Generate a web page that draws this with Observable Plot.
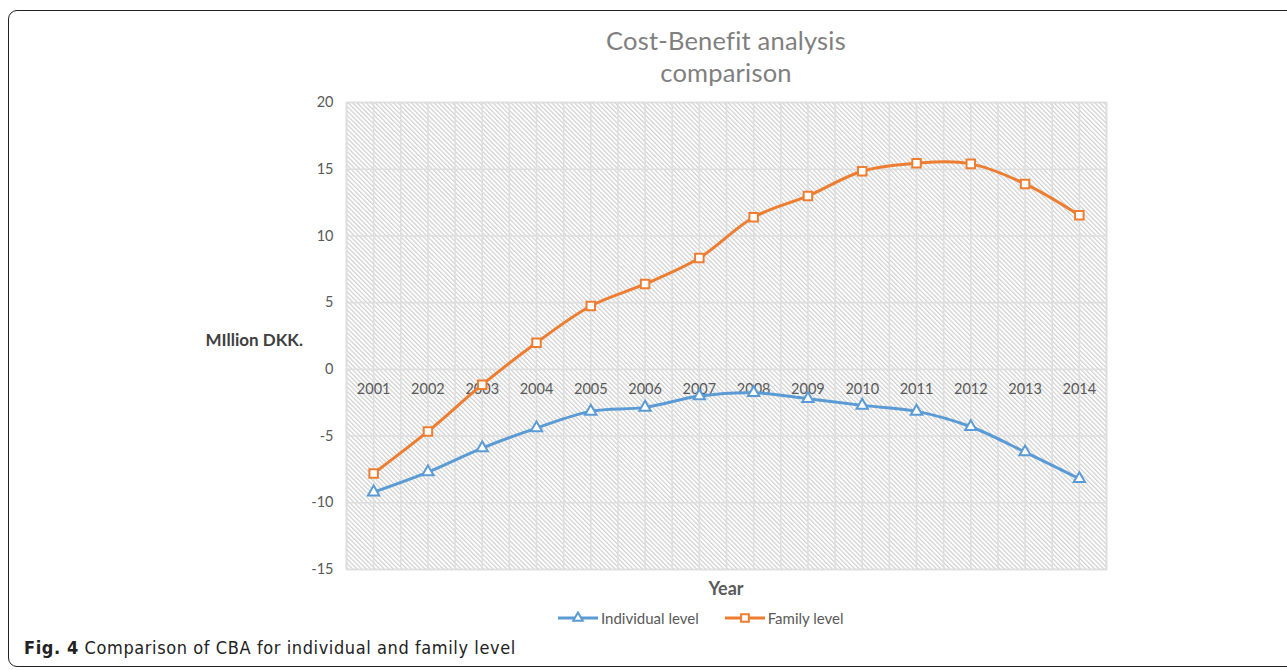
<!DOCTYPE html>
<html>
<head>
<meta charset="utf-8">
<script src="https://cdn.jsdelivr.net/npm/d3@7"></script>
<script src="https://cdn.jsdelivr.net/npm/@observablehq/plot@0.6"></script>
<style>
  html, body { margin: 0; padding: 0; background: #fff; }
  #wrap { position: relative; width: 1287px; height: 670px; overflow: hidden; font-family: Lato, "Open Sans", sans-serif; }
  #box { position: absolute; left: 8px; top: 10px; width: 1300px; height: 657px; border: 1.5px solid #222; border-radius: 9px; box-sizing: border-box; }
  #chart { position: absolute; left: 0; top: 0; }
  .title { position: absolute; left: 476px; width: 500px; text-align: center; font-size: 25.5px; letter-spacing: 0.2px; color: #7f7f7f; line-height: 32px; top: 24px; }
  .ylab { position: absolute; right: calc(1287px - 303px); top: 329px; font-size: 17px; font-weight: bold; color: #404040; white-space: nowrap; }
  .xlab { position: absolute; left: 626px; width: 200px; text-align: center; top: 577px; font-size: 18px; font-weight: bold; color: #595959; }
  .legend { position: absolute; left: 558px; top: 609px; font-size: 15px; color: #595959; display: flex; align-items: center; white-space: nowrap; }
  .legend .item { display: flex; align-items: center; margin-right: 26px; }
  .legend svg { margin-right: 3px; }
  .caption { position: absolute; left: 24px; top: 637px; font-family: "Liberation Sans Narrow", "DejaVu Sans Condensed", sans-serif; font-size: 18px; letter-spacing: 0.6px; color: #222; white-space: nowrap; }
</style>
</head>
<body>
<div id="wrap">
  <div id="box"></div>
  <div id="chart"></div>
  <div class="title">Cost-Benefit analysis<br>comparison</div>
  <div class="ylab">MIllion DKK.</div>
  <div class="xlab">Year</div>
  <div class="legend" id="legend"></div>
  <div class="caption"><b>Fig. 4</b> Comparison of CBA for individual and family level</div>
</div>
<script>
const years = [2001, 2002, 2003, 2004, 2005, 2006, 2007, 2008, 2009, 2010, 2011, 2012, 2013, 2014];
const individual = [-9.2, -7.7, -5.9, -4.4, -3.15, -2.85, -2.0, -1.75, -2.2, -2.7, -3.15, -4.3, -6.2, -8.2];
const family = [-7.8, -4.65, -1.15, 2.0, 4.75, 6.4, 8.35, 11.4, 13.0, 14.85, 15.45, 15.4, 13.9, 11.55];
const yTicks = [-15, -10, -5, 0, 5, 10, 15, 20];
const seriesNames = ["Individual level", "Family level"];
const seriesColors = ["#5B9BD5", "#ED7D31"];
const seriesSymbols = ["triangle", "square"];

const rows = [
  ...years.map((yr, i) => ({year: yr, value: individual[i], series: seriesNames[0]})),
  ...years.map((yr, i) => ({year: yr, value: family[i], series: seriesNames[1]}))
];
// vertical grid: category centres and boundaries
const gridX = [years[0] - 0.5, ...years.flatMap(yr => [yr, yr + 0.5])];

const defsMark = () => {
  const defs = d3.create("svg:defs");
  const p = defs.append("pattern")
    .attr("id", "hatch")
    .attr("patternUnits", "userSpaceOnUse")
    .attr("width", 3.2).attr("height", 3.2)
    .attr("patternTransform", "rotate(-45)");
  p.append("rect").attr("width", 3.2).attr("height", 3.2).attr("fill", "#ffffff");
  p.append("line").attr("x1", 0.6).attr("y1", 0).attr("x2", 0.6).attr("y2", 3.2)
    .attr("stroke", "#cccccc").attr("stroke-width", 1.1);
  return defs.node();
};

const chart = Plot.plot({
  width: 1287,
  height: 670,
  marginLeft: 346,
  marginRight: 181,
  marginTop: 102,
  marginBottom: 101,
  style: {fontFamily: "Lato, 'Open Sans', sans-serif", fontSize: "14px", background: "transparent"},
  x: {type: "linear", domain: [years[0] - 0.5, years[years.length - 1] + 0.5], axis: null},
  y: {domain: [yTicks[0], yTicks[yTicks.length - 1]], axis: null},
  color: {domain: seriesNames, range: seriesColors},
  symbol: {domain: seriesNames, range: seriesSymbols},
  marks: [
    defsMark,
    Plot.frame({fill: "url(#hatch)", stroke: "#d9d9d9", strokeWidth: 1.5}),
    Plot.ruleX(gridX, {stroke: "#dedede", strokeWidth: 1.6}),
    Plot.ruleY(yTicks, {stroke: "#dedede", strokeWidth: 1.6}),
    Plot.axisY({ticks: yTicks, tickSize: 0, tickPadding: 13, label: null, tickFormat: d => String(d), fill: "#595959", fontSize: 14.5}),
    Plot.text(years, {x: d => d, y: 0, dy: 20, text: d => String(d), fill: "#595959", fontSize: 14.5}),
    Plot.line(rows, {x: "year", y: "value", z: "series", stroke: "series", strokeWidth: 3, curve: "catmull-rom"}),
    Plot.dot(rows.filter(d => d.series === seriesNames[0]), {x: "year", y: "value", symbol: "series", r: 4.2, stroke: "series", fill: "white", strokeWidth: 2}),
    Plot.dot(rows.filter(d => d.series === seriesNames[1]), {x: "year", y: "value", symbol: "series", r: 4.8, stroke: "series", fill: "white", strokeWidth: 2})
  ]
});
document.getElementById("chart").appendChild(chart);

// legend
const legend = d3.select("#legend");
seriesNames.forEach((name, i) => {
  const item = legend.append("div").attr("class", "item");
  const svg = item.append("svg").attr("width", 40).attr("height", 14);
  svg.append("line").attr("x1", 0).attr("x2", 40).attr("y1", 7).attr("y2", 7)
    .attr("stroke", seriesColors[i]).attr("stroke-width", 3);
  const sym = seriesSymbols[i] === "triangle" ? d3.symbolTriangle : d3.symbolSquare;
  svg.append("path").attr("d", d3.symbol(sym, seriesSymbols[i] === "triangle" ? 40 : 60)())
    .attr("transform", "translate(20,7)")
    .attr("fill", "white").attr("stroke", seriesColors[i]).attr("stroke-width", 2);
  item.append("span").text(name);
});
</script>
</body>
</html>
